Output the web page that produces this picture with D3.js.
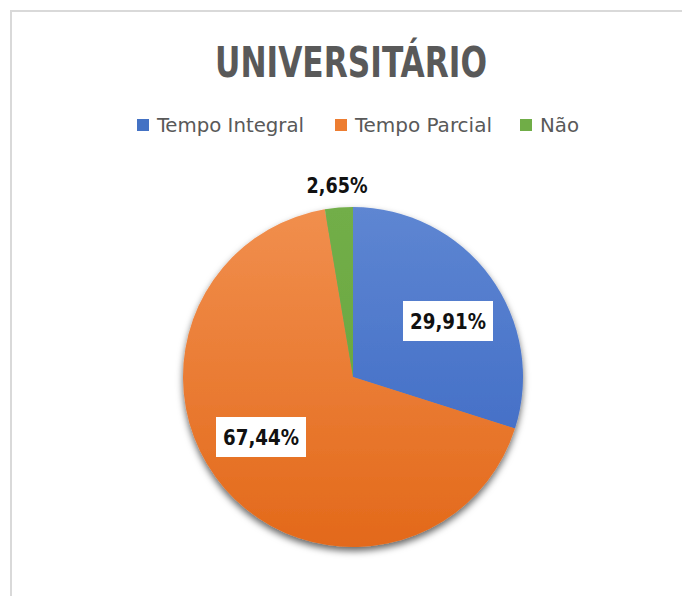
<!DOCTYPE html>
<html>
<head>
<meta charset="utf-8">
<script src="https://cdn.jsdelivr.net/npm/d3@7"></script>
<style>
  body { margin: 0; background: #fff; }
  svg { display: block; }
</style>
</head>
<body>
<div id="chart"></div>
<script>
// data
var categories = ['Tempo Integral', 'Tempo Parcial', 'Não'];
var values = [29.91, 67.44, 2.65];
var labels = ['29,91%', '67,44%', '2,65%'];
var colorsTop = ['#5e86d2', '#f18f4e', '#72ae48'];
var colorsBottom = ['#3865c2', '#e3691a', '#64a33c'];
var legendColors = ['#4472c4', '#ed7d31', '#70ad47'];

var W = 682, H = 596;
var font = '"Liberation Sans Narrow", "DejaVu Sans Condensed", "Open Sans", sans-serif';

var svg = d3.select('#chart').append('svg')
  .attr('width', W).attr('height', H);

// frame
svg.append('rect')
  .attr('x', 11).attr('y', 11)
  .attr('width', W + 20).attr('height', H + 20)
  .attr('fill', '#fff')
  .attr('stroke', '#d9d9d9').attr('stroke-width', 2);

var defs = svg.append('defs');
var shadow = defs.append('filter').attr('id', 'shadow')
  .attr('x', '-20%').attr('y', '-20%').attr('width', '140%').attr('height', '140%');
shadow.append('feDropShadow')
  .attr('dx', 0).attr('dy', 4).attr('stdDeviation', 3.5)
  .attr('flood-color', '#000').attr('flood-opacity', 0.6);

var cx = 353, cy = 377, r = 170;

categories.forEach(function (c, i) {
  var g = defs.append('linearGradient').attr('id', 'grad' + i)
    .attr('gradientUnits', 'userSpaceOnUse')
    .attr('x1', 0).attr('y1', -r).attr('x2', 0).attr('y2', r);
  g.append('stop').attr('offset', '0%').attr('stop-color', colorsTop[i]);
  g.append('stop').attr('offset', '100%').attr('stop-color', colorsBottom[i]);
});

// title
svg.append('text')
  .attr('x', 351).attr('y', 77)
  .attr('text-anchor', 'middle')
  .attr('font-family', font).attr('font-weight', 'bold')
  .attr('font-size', 43).attr('fill', '#595959')
  .attr('textLength', 272).attr('lengthAdjust', 'spacingAndGlyphs')
  .text('UNIVERSITÁRIO');

// legend
var legendX = [137, 335, 520];
var legendW = [147, 137, 39];
var legend = svg.append('g');
categories.forEach(function (c, i) {
  legend.append('rect')
    .attr('x', legendX[i]).attr('y', 119)
    .attr('width', 12).attr('height', 12)
    .attr('fill', legendColors[i]);
  legend.append('text')
    .attr('x', legendX[i] + 20).attr('y', 132)
    .attr('font-family', font).attr('font-size', 20)
    .attr('fill', '#595959')
    .attr('textLength', legendW[i]).attr('lengthAdjust', 'spacingAndGlyphs')
    .text(c);
});

// pie
var pie = d3.pie().sort(null).value(function (d) { return d; });
var arc = d3.arc().innerRadius(0).outerRadius(r);
var arcs = pie(values);

var pg = svg.append('g').attr('transform', 'translate(' + cx + ',' + cy + ')');
pg.append('g').attr('filter', 'url(#shadow)')
  .selectAll('path').data(arcs).enter().append('path')
  .attr('d', arc)
  .attr('fill', function (d, i) { return 'url(#grad' + i + ')'; });

// data labels
var labelPos = [[448, 321], [261, 437], [337, 185]];
var boxed = [true, true, false];
arcs.forEach(function (d, i) {
  var lx = labelPos[i][0], ly = labelPos[i][1];
  if (boxed[i]) {
    svg.append('rect')
      .attr('x', lx - 45).attr('y', ly - 20)
      .attr('width', 90).attr('height', 40)
      .attr('fill', '#fff');
  }
  svg.append('text')
    .attr('x', lx).attr('y', ly + 8)
    .attr('text-anchor', 'middle')
    .attr('font-family', font).attr('font-weight', 'bold')
    .attr('font-size', 21).attr('fill', '#111')
    .attr('textLength', i === 2 ? 61 : 76).attr('lengthAdjust', 'spacingAndGlyphs')
    .text(labels[i]);
});
</script>
</body>
</html>
